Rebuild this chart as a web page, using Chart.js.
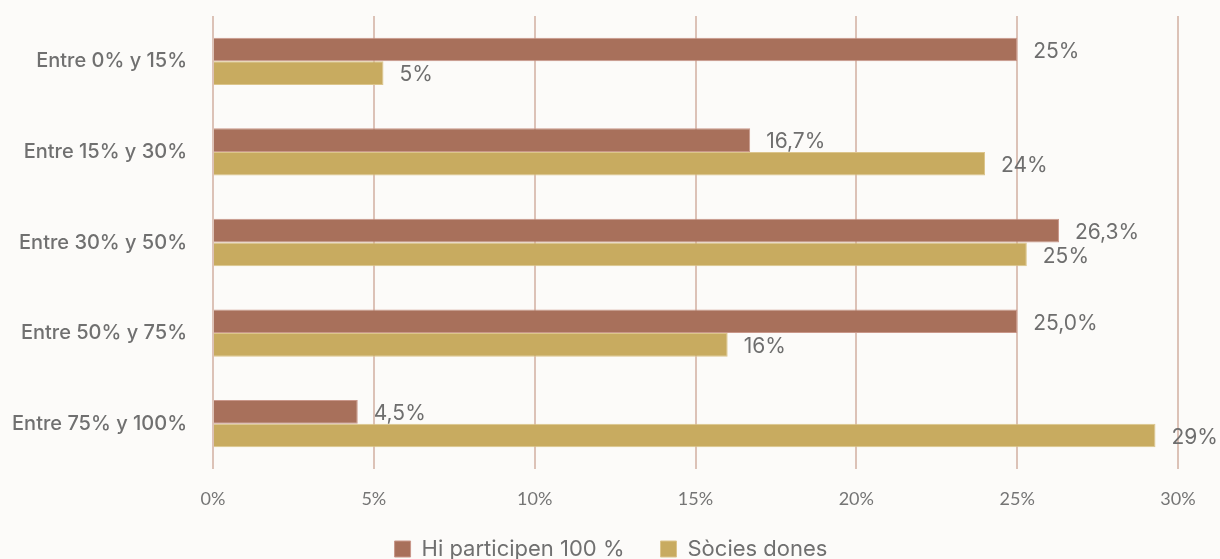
<!DOCTYPE html>
<html>
<head>
<meta charset="utf-8">
<script src="https://cdn.jsdelivr.net/npm/chart.js@4.4.1/dist/chart.umd.min.js"></script>
<style>
  html, body { margin: 0; padding: 0; background: #fcfbf9; overflow: hidden; }
  #wrap { position: relative; width: 1220px; height: 570px; }
</style>
</head>
<body>
<div id="wrap"><canvas id="grafico"></canvas></div>
<script>
// categorias y valores
const categorias = ['Entre 0% y 15%', 'Entre 15% y 30%', 'Entre 30% y 50%', 'Entre 50% y 75%', 'Entre 75% y 100%'];
const participen = [25, 16.7, 26.3, 25.0, 4.5];
const socies = [5.3, 24.0, 25.3, 16.0, 29.3];
const etiquetasParticipen = ['25%', '16,7%', '26,3%', '25,0%', '4,5%'];
const etiquetasSocies = ['5%', '24%', '25%', '16%', '29%'];
const ticksX = [0, 5, 10, 15, 20, 25, 30];

const gris = '#707070';

// etiquetas a la derecha de cada barra
const etiquetasBarras = {
    id: 'etiquetasBarras',
    afterDatasetsDraw(chart) {
        const ctx = chart.ctx;
        const textos = [etiquetasParticipen, etiquetasSocies];
        ctx.save();
        ctx.font = '21px Inter, sans-serif';
        ctx.fillStyle = '#6e6e6e';
        ctx.textAlign = 'left';
        ctx.textBaseline = 'middle';
        chart.data.datasets.forEach((ds, i) => {
            chart.getDatasetMeta(i).data.forEach((bar, j) => {
                ctx.fillText(textos[i][j], bar.x + 16, bar.y + 2);
            });
        });
        ctx.restore();
    }
};

// la leyenda queda algo mas a la derecha que el centro
const moverLeyenda = {
    id: 'moverLeyenda',
    afterLayout(chart) {
        chart.legend.left += 22;
        chart.legend.right += 22;
    }
};

new Chart(document.getElementById('grafico').getContext('2d'), {
    type: 'bar',
    data: {
        labels: categorias,
        datasets: [
            { label: 'Hi participen 100 %', data: participen, backgroundColor: '#a8705b', borderColor: '#c9978a', borderWidth: 1 },
            { label: 'Sòcies dones', data: socies, backgroundColor: '#c8ab60', borderColor: '#dcc58c', borderWidth: 1 }
        ]
    },
    options: {
        indexAxis: 'y',
        responsive: true,
        maintainAspectRatio: false,
        animation: false,
        datasets: { bar: { barPercentage: 1, categoryPercentage: 0.522 } },
        layout: { padding: { top: 16, right: 42, left: 0, bottom: 0 } },
        scales: {
            x: {
                min: 0, max: 30,
                afterFit: s => {
                    s.height = 33;
                    s._computeLabelArea = () => undefined; // sin recorte de etiquetas
                },
                afterBuildTicks: s => { s.ticks = ticksX.map(v => ({ value: v })); },
                grid: { color: '#dcc2b7', lineWidth: 2, drawTicks: false },
                border: { display: false },
                ticks: {
                    padding: 19,
                    color: '#757575',
                    font: { family: 'Lato', size: 18 },
                    callback: v => v + '%'
                }
            },
            y: {
                afterFit: s => { s.width = 213; s.paddingTop = 0; s.paddingBottom = 0; },
                grid: { display: false, drawTicks: false },
                border: { display: false },
                ticks: {
                    padding: 26,
                    color: gris,
                    font: { family: 'Inter', size: 20, weight: '500' }
                }
            }
        },
        plugins: {
            tooltip: { enabled: false },
            legend: {
                position: 'bottom',
                labels: {
                    boxWidth: 16,
                    boxHeight: 16,
                    padding: 36,
                    color: gris,
                    font: { family: 'Inter', size: 22 }
                }
            }
        }
    },
    plugins: [etiquetasBarras, moverLeyenda]
});
</script>
</body>
</html>
